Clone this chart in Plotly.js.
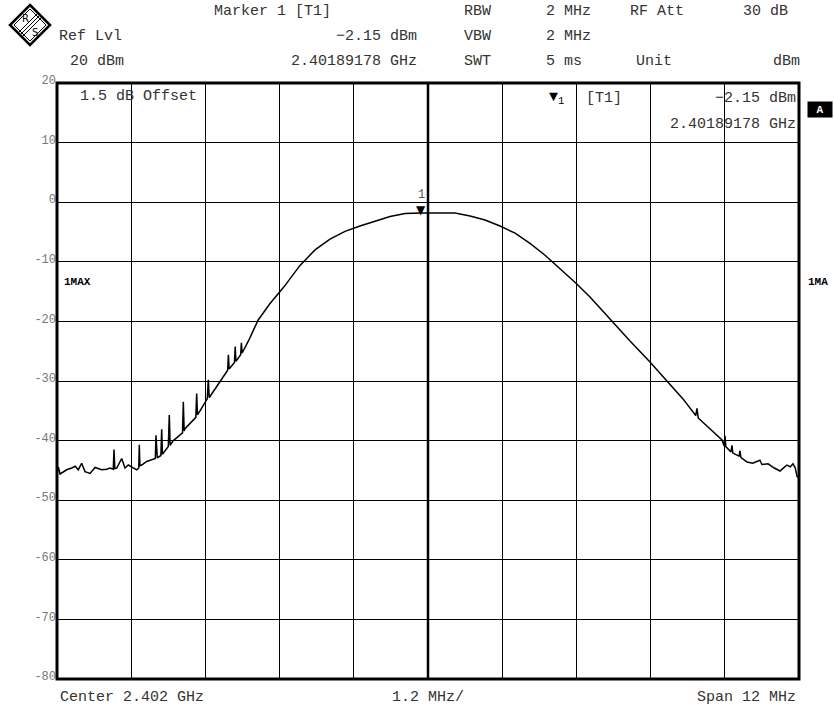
<!DOCTYPE html>
<html>
<head>
<meta charset="utf-8">
<script src="https://cdn.plot.ly/plotly-3.0.1.min.js"></script>
<style>
html,body{margin:0;padding:0;background:#fff;}
#chart{width:834px;height:709px;}
</style>
</head>
<body>
<div id="chart"></div>
<script>
// ---- data (frequency in MHz, level in dBm) ----
const freqMHz = [
 2396.000,2396.021,2396.050,2396.076,2396.157,2396.238,2396.296,2396.344,2396.399,2396.453,
 2396.534,2396.615,2396.723,2396.804,2396.857,2396.910,2396.922,2396.935,2396.966,2397.046,
 2397.100,2397.153,2397.234,2397.289,2397.322,2397.331,2397.341,2397.370,2397.451,2397.532,
 2397.590,2397.601,2397.612,2397.622,2397.680,2397.693,2397.705,2397.731,2397.800,2397.816,
 2397.830,2397.881,2397.989,2398.030,2398.043,2398.056,2398.070,2398.204,2398.245,2398.259,
 2398.272,2398.313,2398.430,2398.447,2398.462,2398.474,2398.636,2398.760,2398.772,2398.784,
 2398.870,2398.882,2398.894,2398.970,2398.982,2398.994,2399.100,2399.251,2399.445,2399.671,
 2399.930,2400.173,2400.415,2400.658,2400.900,2401.143,2401.386,2401.628,2401.871,2402.437,
 2402.680,2402.922,2403.165,2403.408,2403.650,2403.893,2404.135,2404.394,2404.620,2404.960,
 2405.267,2405.590,2405.849,2406.124,2406.330,2406.350,2406.370,2406.755,2406.790,2406.803,
 2406.816,2406.900,2406.916,2406.930,2407.030,2407.046,2407.060,2407.159,2407.250,2407.369,
 2407.400,2407.500,2407.600,2407.692,2407.760,2407.806,2407.860,2407.903,2407.940,2407.968,
 2408.000
];
const levelDbm = [
 -45.5,-44.4,-45.6,-45.4,-44.9,-44.6,-44.3,-44.9,-43.8,-45.2,
 -45.5,-44.5,-44.9,-44.8,-44.6,-44.8,-41.5,-44.7,-44.6,-43.0,
 -44.6,-44.1,-44.6,-44.9,-44.6,-40.7,-44.2,-44.1,-43.5,-43.2,
 -43.0,-39.1,-42.9,-42.9,-42.5,-38.1,-42.3,-41.9,-41.0,-35.7,
 -40.8,-40.0,-39.1,-38.7,-33.5,-38.4,-38.0,-36.6,-36.1,-32.1,
 -35.7,-35.0,-33.0,-29.8,-32.8,-32.6,-30.1,-28.2,-25.6,-28.0,
 -26.9,-24.2,-26.7,-25.6,-23.6,-25.3,-23.2,-19.8,-17.0,-14.2,
 -10.6,-8.0,-6.2,-4.9,-4.0,-3.2,-2.4,-1.9,-1.8,-1.8,
 -2.3,-3.0,-4.0,-5.2,-6.9,-8.9,-11.1,-13.6,-15.9,-19.8,
 -23.3,-26.8,-29.8,-33.0,-35.8,-34.6,-36.2,-39.9,-40.9,-39.2,
 -41.0,-41.9,-40.8,-42.1,-42.6,-41.7,-42.8,-43.6,-43.8,-43.3,
 -44.0,-43.9,-44.6,-45.1,-44.5,-44.1,-44.4,-43.9,-44.6,-46.0,
 -46.3
];
const yTickVals = [20,10,0,-10,-20,-30,-40,-50,-60,-70,-80];
const yTickText = ["20","10","0","-10","-20","-30","-40","-50","-60","-70","-80"];
const markerFreqMHz = 2401.89178;
const markerLevel = -2.15;

// ---- layout helpers (pixel -> paper) ----
const L = 57, R = 799, T = 83, B = 679;
const px = x => (x - L) / (R - L);
const py = y => (B - y) / (B - T);
const FONT = "Liberation Mono, Courier New, monospace";
const TXT = "#333";

function txt(text, x, y, anchor, opts) {
  opts = opts || {};
  return Object.assign({
    text: text, xref: "paper", yref: "paper", x: px(x), y: py(y),
    xanchor: anchor, yanchor: "middle", showarrow: false,
    font: {family: FONT, size: 15, color: TXT}
  }, opts);
}

const annotations = [
  txt("Marker 1 [T1]", 212, 12, "left"),
  txt("RBW", 462, 12, "left"),
  txt("2 MHz", 544, 12, "left"),
  txt("RF Att", 628, 12, "left"),
  txt("30 dB", 790, 12, "right"),
  txt("Ref Lvl", 57, 37, "left"),
  txt("\u22122.15 dBm", 419, 37, "right"),
  txt("VBW", 462, 37, "left"),
  txt("2 MHz", 544, 37, "left"),
  txt("20 dBm", 68, 61, "left"),
  txt("2.40189178 GHz", 419, 61, "right"),
  txt("SWT", 462, 61, "left"),
  txt("5 ms", 544, 61, "left"),
  txt("Unit", 634, 61, "left"),
  txt("dBm", 802, 61, "right"),
  txt("1.5 dB Offset", 78, 96, "left"),
  txt("\u25BC<sub>1</sub>", 547, 98, "left", {font:{family:FONT,size:15,color:"#000"}}),
  txt("[T1]", 584, 99, "left"),
  txt("\u22122.15 dBm", 798, 99, "right"),
  txt("2.40189178 GHz", 798, 124, "right"),
  txt("<b>1MAX</b>", 62, 282, "left", {font:{family:FONT,size:11,color:"#000"}}),
  txt("<b>1MA</b>", 806, 282, "left", {font:{family:FONT,size:11,color:"#000"}}),
  txt("<b>A</b>", 820, 109, "center", {font:{family:FONT,size:11,color:"#fff"}, bgcolor:"#000", borderpad:1, width:22, height:13}),
  txt("Center 2.402 GHz", 58, 697, "left"),
  txt("1.2 MHz/", 428, 697, "center"),
  txt("Span 12 MHz", 798, 697, "right"),
  txt("R", 25, 19, "center", {font:{family:"DejaVu Sans",size:10,color:"#000"}}),
  txt("S", 35, 32, "center", {font:{family:"DejaVu Sans",size:10,color:"#000"}}),
  // marker on trace
  {text:"\u25BC", x: markerFreqMHz, y: markerLevel, xref:"x", yref:"y",
   xanchor:"center", yanchor:"bottom", showarrow:false, yshift:-4,
   font:{family:"DejaVu Sans", size:12, color:"#000"}},
  {text:"1", x: markerFreqMHz, y: markerLevel, xref:"x", yref:"y",
   xanchor:"center", yanchor:"bottom", showarrow:false, yshift:11,
   font:{family:FONT, size:12, color:"#555"}}
];

function pathPx(pts, close) {
  return pts.map((p,i)=> (i? "L":"M") + px(p[0]).toFixed(5) + "," + py(p[1]).toFixed(5)).join(" ") + (close?" Z":"");
}

const shapes = [
  // center line
  {type:"line", xref:"x", yref:"paper", x0:2402, x1:2402, y0:0, y1:1, line:{color:"#000", width:2.5}},
  // frame
  {type:"rect", xref:"paper", yref:"paper", x0:0, x1:1, y0:0, y1:1, line:{color:"#000", width:3}},
  // logo
  {type:"path", xref:"paper", yref:"paper", path: pathPx([[30,5],[50,25],[30,45],[10,25]], true), line:{color:"#000", width:2.5}, fillcolor:"#fff"},
  {type:"path", xref:"paper", yref:"paper", path: pathPx([[30,9],[46,25],[30,41],[14,25]], true), line:{color:"#000", width:1}},
  {type:"path", xref:"paper", yref:"paper", path: pathPx([[18,33],[38,13]], false), line:{color:"#000", width:1}},
  {type:"path", xref:"paper", yref:"paper", path: pathPx([[20,35],[40,15]], false), line:{color:"#000", width:1}},
  {type:"path", xref:"paper", yref:"paper", path: pathPx([[22,37],[42,17]], false), line:{color:"#000", width:1}}
];

const trace = {
  x: freqMHz, y: levelDbm, type:"scatter", mode:"lines",
  line:{color:"#000", width:1.5}, hoverinfo:"skip"
};

const layout = {
  width:834, height:709,
  margin:{l:L, r:834-R, t:T, b:709-B, pad:0},
  paper_bgcolor:"#fff", plot_bgcolor:"#fff",
  showlegend:false,
  xaxis:{range:[2396,2408], dtick:1.2, tick0:2396, showgrid:true, gridcolor:"#000", gridwidth:1,
         showticklabels:false, ticks:"", zeroline:false, showline:false, fixedrange:true},
  yaxis:{range:[-80,20], tickvals:yTickVals, ticktext:yTickText, showgrid:true, gridcolor:"#000", gridwidth:1,
         ticks:"", zeroline:false, showline:false, ticklabelshift:-3, ticklabelstandoff:0,
         tickfont:{family:FONT, size:12, color:"#777"}, fixedrange:true},
  annotations: annotations,
  shapes: shapes
};

Plotly.newPlot("chart", [trace], layout, {staticPlot:true, displayModeBar:false});
</script>
</body>
</html>
